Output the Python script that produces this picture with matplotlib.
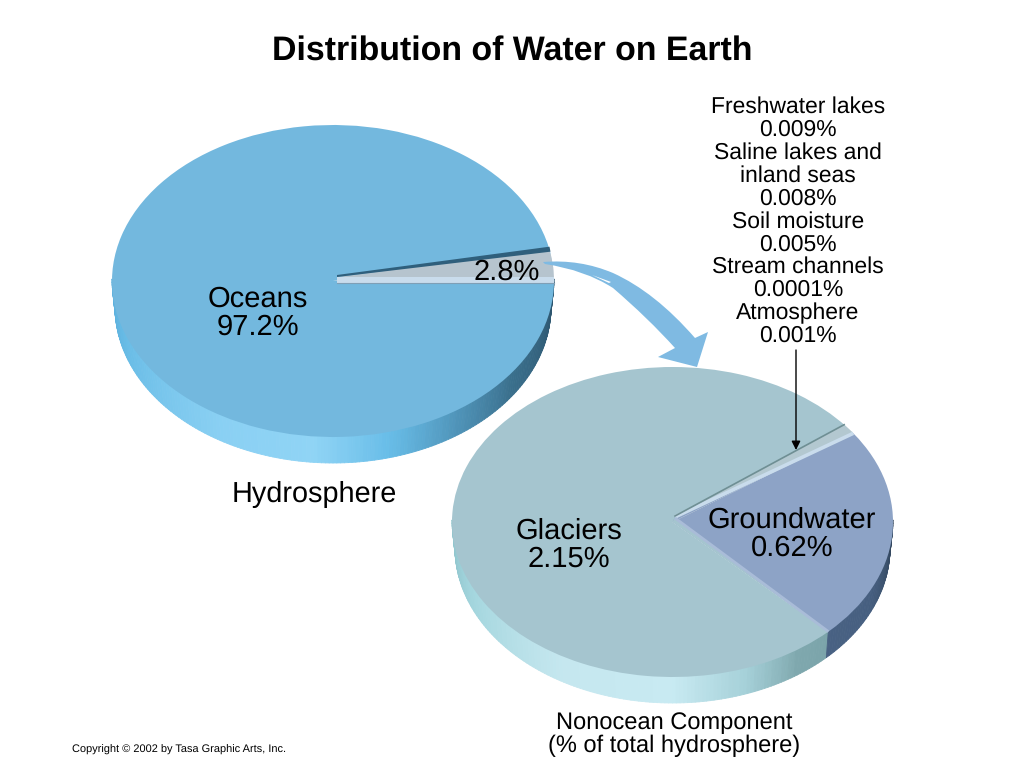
#!/usr/bin/env python3
"""Distribution of Water on Earth: two tilted pies drawn in image pixel coordinates."""

import numpy as np
import matplotlib
matplotlib.use("Agg")
import matplotlib.pyplot as plt
from matplotlib.collections import PolyCollection
from matplotlib.colors import LinearSegmentedColormap
from matplotlib.patches import PathPatch, Polygon
from matplotlib.path import Path

plt.rcParams['font.family'] = ['Liberation Sans', 'DejaVu Sans']
plt.rcParams['text.hinting'] = 'no_hinting'

W, H = 1024, 768

hydro_labels = ["Oceans", "Nonocean"]
hydro_values = [97.2, 2.8]

small_labels = ["Freshwater lakes", "Saline lakes and\ninland seas", "Soil moisture",
                "Stream channels", "Atmosphere"]
small_values = [0.009, 0.008, 0.005, 0.0001, 0.001]

nonocean_labels = ["Groundwater", "Glaciers"]
nonocean_values = [0.62, 2.15]

OCEAN = "#73b8de"
WEDGE = "#b6c4ce"
GLACIER = "#a5c5cf"
GROUND = "#8da3c6"
SMALL = "#b3c8d0"
STRIP = "#c9dcec"

ocean_wall = [(180, "#5aaedb"), (200, "#68bce6"), (240, "#8ad0f3"), (265, "#90d4f5"),
              (285, "#68bde8"), (305, "#4f93b8"), (325, "#3a6f8c"), (360, "#2d556e")]
glacier_wall = [(180, "#8cc2ca"), (205, "#a4d6de"), (240, "#c5e7ef"), (270, "#c8eaf2"),
                (290, "#a5d0d8"), (305, "#7fa8ae"), (360, "#6a9298")]
ground_wall = [(180, "#5a7398"), (335, "#465f80"), (360, "#33475e")]

BOTTOM_INSET = 3  # lower rim is a bit narrower than the top face


def on_rim(pie, deg, inset=0):
    cx, cy, rx, ry, _ = pie
    t = np.radians(deg)
    return cx + (rx - inset) * np.cos(t), cy - ry * np.sin(t)


def draw_wall(ax, pie, t0, t1, stops):
    """side of the disc, one small quad per degree"""
    depth = pie[4]
    cmap = LinearSegmentedColormap.from_list(
        "wall", [((d - 180) / 180, c) for d, c in stops])
    ts = np.arange(t0, t1 + 0.01, 1.0)
    polys, cols = [], []
    for a, b in zip(ts[:-1], ts[1:]):
        xa, ya = on_rim(pie, a)
        xb, yb = on_rim(pie, b)
        xc, yc = on_rim(pie, b, BOTTOM_INSET)
        xd, yd = on_rim(pie, a, BOTTOM_INSET)
        polys.append([(xa, ya - 2), (xb, yb - 2), (xc, yc + depth), (xd, yd + depth)])
        cols.append(cmap(((a + b) / 2 - 180) / 180))
    ax.add_collection(PolyCollection(polys, facecolors=cols, edgecolors=cols, linewidths=0.6))


def draw_top(fig, pie, values, colors, start):
    """real pie in its own axes, squashed to an ellipse by the axes shape"""
    cx, cy, rx, ry, _ = pie
    ax = fig.add_axes([(cx - rx) / W, 1 - (cy + ry) / H, 2 * rx / W, 2 * ry / H], zorder=1)
    ax.pie(values, colors=colors, startangle=start, radius=1.0, wedgeprops={"linewidth": 0})
    ax.set_aspect("auto")
    ax.set_xlim(-1, 1)
    ax.set_ylim(-1, 1)
    ax.axis("off")
    return ax


fig = plt.figure(figsize=(W / 100, H / 100), dpi=100, facecolor="white")

back = fig.add_axes([0, 0, 1, 1], zorder=0)
back.set_xlim(0, W)
back.set_ylim(H, 0)
back.axis("off")

over = fig.add_axes([0, 0, 1, 1], zorder=2)
over.set_xlim(0, W)
over.set_ylim(H, 0)
over.axis("off")
over.patch.set_alpha(0)

pie1 = (333, 281, 221, 156, 26)
pie2 = (672.5, 522, 220.5, 155, 26)
apex1 = (337, 277)   # the picture's perspective puts the slice tips off the ellipse centres
apex2 = (675, 517)

# hydrosphere pie
draw_wall(back, pie1, 180, 360, ocean_wall)
draw_top(fig, pie1, hydro_values[::-1], [WEDGE, OCEAN], 0)
wedge_deg = 360 * hydro_values[1] / sum(hydro_values)

x_end, y_end = on_rim(pie1, wedge_deg + 1.5)
right1 = pie1[0] + pie1[2]
over.add_patch(Polygon([apex1, (x_end, y_end), on_rim(pie1, wedge_deg * 0.5), (right1 - 1, 281)],
                       closed=True, fc=WEDGE, ec="none"))
over.add_patch(Polygon([(apex1[0], apex1[1] - 2), (x_end, y_end - 3), (x_end + 1, y_end + 2), apex1],
                       closed=True, fc="#2f5f7c", ec="none"))
over.add_patch(Polygon([apex1, (right1, 277), (right1, 283), (apex1[0], 283)],
                       closed=True, fc=STRIP, ec="none"))
over.plot([apex1[0], right1], [283, 283], color="#7f9fb6", lw=0.8)

# nonocean pie
total = sum(nonocean_values) + sum(small_values)
ground_deg = 360 * nonocean_values[0] / total
small_deg = 360 * sum(small_values) / total
start2 = -45
end_ground = start2 + ground_deg
end_small = end_ground + small_deg

draw_wall(back, pie2, 180, 360 + start2, glacier_wall)
draw_wall(back, pie2, 360 + start2, 360, ground_wall)
pie2_colors = [GROUND] + [SMALL] * len(small_values) + [GLACIER]
draw_top(fig, pie2, [nonocean_values[0]] + small_values + [nonocean_values[1]], pie2_colors, start2)

centre2 = (pie2[0], pie2[1])
rim_ground = on_rim(pie2, end_ground)
rim_small = on_rim(pie2, end_small + 1)
rim_start = on_rim(pie2, start2)
over.add_patch(Polygon([apex2, centre2, rim_ground], closed=True, fc=GROUND, ec="none"))
over.add_patch(Polygon([apex2, centre2, rim_start], closed=True, fc=GLACIER, ec="none"))
over.add_patch(Polygon([apex2, rim_small, rim_ground], closed=True, fc=SMALL, ec="none"))
over.plot([apex2[0], rim_ground[0]], [apex2[1], rim_ground[1]], color=STRIP, lw=2.6,
          solid_capstyle="butt")
over.plot([apex2[0], rim_small[0]], [apex2[1] - 1, rim_small[1]], color="#6f8f94", lw=1.2)
over.plot([apex2[0], rim_start[0]], [apex2[1] + 1, rim_start[1]], color="#a9bcd8", lw=2.0,
          solid_capstyle="butt")

# big curved arrow between the pies
arrow_codes = [Path.MOVETO, Path.CURVE3, Path.CURVE3, Path.CURVE3, Path.CURVE3,
               Path.LINETO, Path.LINETO, Path.LINETO, Path.LINETO,
               Path.CURVE3, Path.CURVE3, Path.CURVE3, Path.CURVE3, Path.CLOSEPOLY]
arrow_verts = [(543, 262), (580, 259), (613, 273), (655, 292), (695, 338),
               (708, 332), (697, 367), (658, 357), (675, 348),
               (648, 318), (613, 288), (585, 270), (545, 264), (543, 262)]
over.add_patch(PathPatch(Path(arrow_verts, arrow_codes), fc="#7fbae2", ec="none"))
over.add_patch(Polygon([(592, 275), (611, 282), (609, 283)], closed=True, fc="white", ec="none"))

# thin callout arrow
over.annotate("", xy=(796, 450), xytext=(796, 350),
              arrowprops=dict(arrowstyle="-|>", color="black", lw=1.0, mutation_scale=13,
                              shrinkA=0, shrinkB=0))

# text
over.text(512, 51, "Distribution of Water on Earth", fontsize=24.4, fontweight="bold",
          ha="center", va="center")

big = 21
gap = 1.06
over.text(258, 313, f"{hydro_labels[0]}\n{hydro_values[0]}%", fontsize=big, ha="center",
          va="center", linespacing=gap)
over.text(507, 272, f"{hydro_values[1]}%", fontsize=big, ha="center", va="center")
over.text(314, 494, "Hydrosphere", fontsize=big - 0.2, ha="center", va="center")
over.text(569, 545, f"{nonocean_labels[1]}\n{nonocean_values[1]}%", fontsize=big, ha="center",
          va="center", linespacing=gap)
over.text(792, 534, f"{nonocean_labels[0]}\n{nonocean_values[0]}%", fontsize=big, ha="center",
          va="center", linespacing=gap)
over.text(674, 734, "Nonocean Component\n(% of total hydrosphere)", fontsize=17,
          ha="center", va="center", linespacing=1.04)

side_lines = []
for name, val in zip(small_labels, small_values):
    side_lines += name.split("\n") + [f"{val:g}%"]
for i, line in enumerate(side_lines):
    over.text(798, 107 + i * 22.9, line, fontsize=16.5, ha="center", va="center")

over.text(72, 750, "Copyright © 2002 by Tasa Graphic Arts, Inc.", fontsize=7.9, ha="left", va="center")

fig.savefig("out.png", dpi=100)
